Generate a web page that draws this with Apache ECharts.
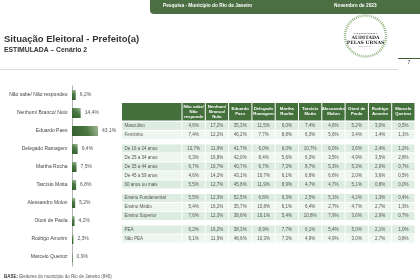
<!DOCTYPE html>
<html><head><meta charset="utf-8">
<script src="https://cdn.jsdelivr.net/npm/echarts@6/dist/echarts.min.js"></script>
<style>html,body{margin:0;padding:0;background:#fff}#c{width:420px;height:280px}</style>
</head><body><div id="c"></div>
<script>
const barCategories = ['Não sabe/ Não respondeu','Nenhum/ Branco/ Nulo','Eduardo Paes','Delegado Ramagem','Martha Rocha','Tarcísio Motta','Alessandro Molon','Otoni de Paula','Rodrigo Amorim','Marcelo Queiroz'];
const barValues = [6.2, 14.4, 43.1, 9.4, 7.5, 6.8, 5.2, 4.2, 2.3, 0.9];

const tableColumns = ['Não sabe/\nNão\nresponde','Nenhum/\nBranco/\nNulo','Eduardo\nPaes','Delegado\nRamagem','Martha\nRocha','Tarcísio\nMotta','Alessandro\nMolon','Otoni de\nPaula','Rodrigo\nAmorim','Marcelo\nQueiroz'];

const rowsSexo = ['Masculino','Feminino'];
const valuesSexo = [
  [4.6, 17.2, 35.3, 11.5, 6.0, 7.4, 4.6, 5.2, 3.0, 0.5],
  [7.4, 12.2, 46.2, 7.7, 8.8, 6.3, 5.6, 3.4, 1.4, 1.1]
];
const rowsIdade = ['De 16 a 24 anos','De 25 a 34 anos','De 35 a 44 anos','De 45 a 59 anos','60 anos ou mais'];
const valuesIdade = [
  [10.7, 11.9, 41.7, 6.0, 6.0, 10.7, 6.0, 3.6, 2.4, 1.2],
  [6.3, 16.8, 42.0, 8.4, 5.6, 6.3, 3.5, 4.9, 3.5, 2.8],
  [6.7, 16.7, 40.7, 6.7, 7.3, 8.7, 5.3, 5.3, 2.0, 0.7],
  [4.6, 14.2, 43.1, 10.7, 6.1, 6.6, 6.6, 2.0, 3.6, 0.5],
  [5.5, 12.7, 45.8, 11.9, 8.9, 4.7, 4.7, 5.1, 0.8, 0.0]
];
const rowsEscolaridade = ['Ensino Fundamental','Ensino Médio','Ensino Superior'];
const valuesEscolaridade = [
  [5.5, 12.3, 52.5, 6.8, 9.3, 2.5, 5.1, 4.2, 1.3, 0.4],
  [5.4, 16.2, 35.7, 10.8, 6.1, 6.4, 2.7, 4.7, 2.7, 1.3],
  [7.6, 12.3, 38.6, 10.1, 5.4, 10.8, 7.9, 3.6, 2.9, 0.7]
];
const rowsPea = ['PEA','Não PEA'];
const valuesPea = [
  [6.2, 16.2, 38.3, 8.9, 7.7, 6.1, 5.4, 5.0, 2.1, 1.0],
  [6.1, 11.9, 48.6, 10.3, 7.3, 4.9, 4.9, 3.0, 2.7, 0.8]
];

const groups = [[rowsSexo, valuesSexo],[rowsIdade, valuesIdade],[rowsEscolaridade, valuesEscolaridade],[rowsPea, valuesPea]];

const fmt = v => v.toFixed(1).replace('.', ',') + '%';
const FONT = '"Liberation Sans", Arial, sans-serif';
const GREEN = '#44703c';

// build table data
const rowLabels = [];
const labelData = [];
const cellData = [];
let pos = 0;
groups.forEach((g, gi) => {
  if (gi > 0) pos += 0.5;
  g[0].forEach((name, ri) => {
    const idx = rowLabels.length;
    rowLabels.push(name);
    const shade = ri % 2;
    labelData.push([idx, pos, shade]);
    g[1][ri].forEach((v, ci) => cellData.push([ci, pos, v, shade]));
    pos += 1;
  });
});
const tableRowsEnd = pos;
const headerData = tableColumns.map((t, i) => [i]);
headerData.unshift([-1]);

const XMIN = -2.575, YMIN = -2.05;
const shades = ['#dcece0', '#eef6f0'];

function cellRender(params, api) {
  const c = api.value(0), r = api.value(1), v = api.value(2), s = api.value(3);
  const p0 = api.coord([c, r]), p1 = api.coord([c + 1, r + 1]);
  const x = p0[0] + 0.5, y = p0[1] + 0.5, w = p1[0] - p0[0] - 1, h = p1[1] - p0[1] - 1;
  return { type: 'group', children: [
    { type: 'rect', shape: { x, y, width: w, height: h }, style: { fill: shades[s] } },
    { type: 'text', style: { x: x + w / 2, y: y + h / 2 + 0.3, text: fmt(v), fill: '#555', font: '4.5px ' + FONT, align: 'center', verticalAlign: 'middle' } }
  ]};
}
function labelRender(params, api) {
  const i = api.value(0), r = api.value(1), s = api.value(2);
  const p0 = api.coord([XMIN, r]), p1 = api.coord([0, r + 1]);
  const x = p0[0], y = p0[1] + 0.5, w = p1[0] - p0[0] - 0.5, h = p1[1] - p0[1] - 1;
  return { type: 'group', children: [
    { type: 'rect', shape: { x, y, width: w, height: h }, style: { fill: shades[s] } },
    { type: 'text', style: { x: x + 2.5, y: y + h / 2 + 0.3, text: rowLabels[i], fill: '#555', font: '4.5px ' + FONT, align: 'left', verticalAlign: 'middle' } }
  ]};
}
function headerRender(params, api) {
  const c = api.value(0);
  const a = c < 0 ? XMIN : c, b = c < 0 ? 0 : c + 1;
  const p0 = api.coord([a, YMIN]), p1 = api.coord([b, 0]);
  const x = p0[0] + (c < 0 ? 0 : 0.5), y = p0[1], w = p1[0] - x - 0.5, h = p1[1] - p0[1] - 1;
  const ch = [{ type: 'rect', shape: { x, y, width: w, height: h }, style: { fill: GREEN } }];
  if (c >= 0) ch.push({ type: 'text', style: { x: x + w / 2, y: y + h / 2, text: tableColumns[c], fill: '#fff', font: 'bold 4.3px ' + FONT, align: 'center', verticalAlign: 'middle', lineHeight: 5 } });
  return { type: 'group', children: ch };
}

const chart = echarts.init(document.getElementById('c'), null, { renderer: 'canvas' });
chart.setOption({
  animation: false,
  backgroundColor: '#fff',
  textStyle: { fontFamily: FONT },
  grid: [
    { left: 72, top: 86, width: 30.2, height: 180, containLabel: false },
    { left: 122, top: 103, width: 293, height: (tableRowsEnd - YMIN) * 9, containLabel: false }
  ],
  xAxis: [
    { gridIndex: 0, type: 'value', min: 0, max: 50, show: false },
    { gridIndex: 1, type: 'value', min: XMIN, max: 10, show: false }
  ],
  yAxis: [
    { gridIndex: 0, type: 'category', data: barCategories, inverse: true,
      axisLine: { show: true, lineStyle: { color: '#a0a0a0', width: 0.8 } },
      axisTick: { show: false },
      axisLabel: { fontSize: 5, color: '#444', margin: 4.5, fontFamily: FONT } },
    { gridIndex: 1, type: 'value', min: YMIN, max: tableRowsEnd, inverse: true, show: false }
  ],
  series: [
    { type: 'bar', xAxisIndex: 0, yAxisIndex: 0, data: barValues, barWidth: 10,
      itemStyle: { color: new echarts.graphic.LinearGradient(0, 1, 1, 0, [
        { offset: 0, color: '#355f2f' }, { offset: 0.55, color: '#4a7741' }, { offset: 1, color: '#a3bb99' }]) },
      label: { show: true, position: 'right', distance: 4, fontSize: 5, color: '#555', fontFamily: FONT, formatter: p => fmt(p.value) } },
    { type: 'custom', xAxisIndex: 1, yAxisIndex: 1, renderItem: headerRender, data: headerData, clip: false },
    { type: 'custom', xAxisIndex: 1, yAxisIndex: 1, renderItem: labelRender, data: labelData, clip: false },
    { type: 'custom', xAxisIndex: 1, yAxisIndex: 1, renderItem: cellRender, data: cellData, clip: false }
  ],
  graphic: [
    { type: 'rect', shape: { x: 150, y: -5, width: 275, height: 19, r: 4 }, style: { fill: '#4b6f42' } },
    { type: 'text', style: { x: 163, y: 6, text: 'Pesquisa - Município do Rio de Janeiro', fill: '#fff', font: 'bold 4.8px ' + FONT, verticalAlign: 'middle' } },
    { type: 'text', style: { x: 334, y: 6, text: 'Novembro de 2023', fill: '#fff', font: 'bold 4.8px ' + FONT, verticalAlign: 'middle' } },
    { type: 'text', style: { x: 4, y: 39, text: 'Situação Eleitoral - Prefeito(a)', fill: '#333', font: 'bold 9.5px ' + FONT, verticalAlign: 'middle' } },
    { type: 'text', style: { x: 4, y: 50, text: 'ESTIMULADA – Cenário 2', fill: '#333', font: 'bold 6.8px ' + FONT, verticalAlign: 'middle' } },
    { type: 'circle', shape: { cx: 365.5, cy: 36, r: 20.5 }, style: { fill: 'none', stroke: '#7aa36c', lineWidth: 2.5, lineDash: [0.8, 1.2] } },
    { type: 'text', style: { x: 365.5, y: 33.5, text: 'PAPER PESQUISA', fill: '#333', font: 'bold 2.8px serif', align: 'center', verticalAlign: 'middle' } },
    { type: 'text', style: { x: 365.5, y: 37.8, text: 'AUDITADA', fill: '#2a2a2a', font: 'bold 4.6px "DejaVu Serif", serif', align: 'center', verticalAlign: 'middle' } },
    { type: 'text', style: { x: 365.5, y: 42.3, text: 'PELAS URNAS', fill: '#2a2a2a', font: 'bold 4.6px "DejaVu Serif", serif', align: 'center', verticalAlign: 'middle' } },
    { type: 'text', style: { x: 365.5, y: 46.5, text: 'REGISTRO TSE', fill: '#666', font: '2px serif', align: 'center', verticalAlign: 'middle' } },
    { type: 'line', shape: { x1: 0, y1: 69.5, x2: 398, y2: 69.5 }, style: { stroke: '#cfd6cc', lineWidth: 0.8 } },
    { type: 'line', shape: { x1: 398, y1: 58.5, x2: 420, y2: 58.5 }, style: { stroke: '#3b5e35', lineWidth: 1 } },
    { type: 'text', style: { x: 409, y: 63, text: '7', fill: '#444', font: '5px ' + FONT, align: 'center', verticalAlign: 'middle' } },
    { type: 'text', style: { x: 4, y: 277, text: '{b|BASE:} Eleitores do município do Rio de Janeiro (840)', fill: '#555', fontSize: 4.5, fontFamily: FONT, verticalAlign: 'middle',
      rich: { b: { fontWeight: 'bold', fontSize: 4.5, fontFamily: FONT, fill: '#333' } } } }
  ]
});
</script></body></html>
